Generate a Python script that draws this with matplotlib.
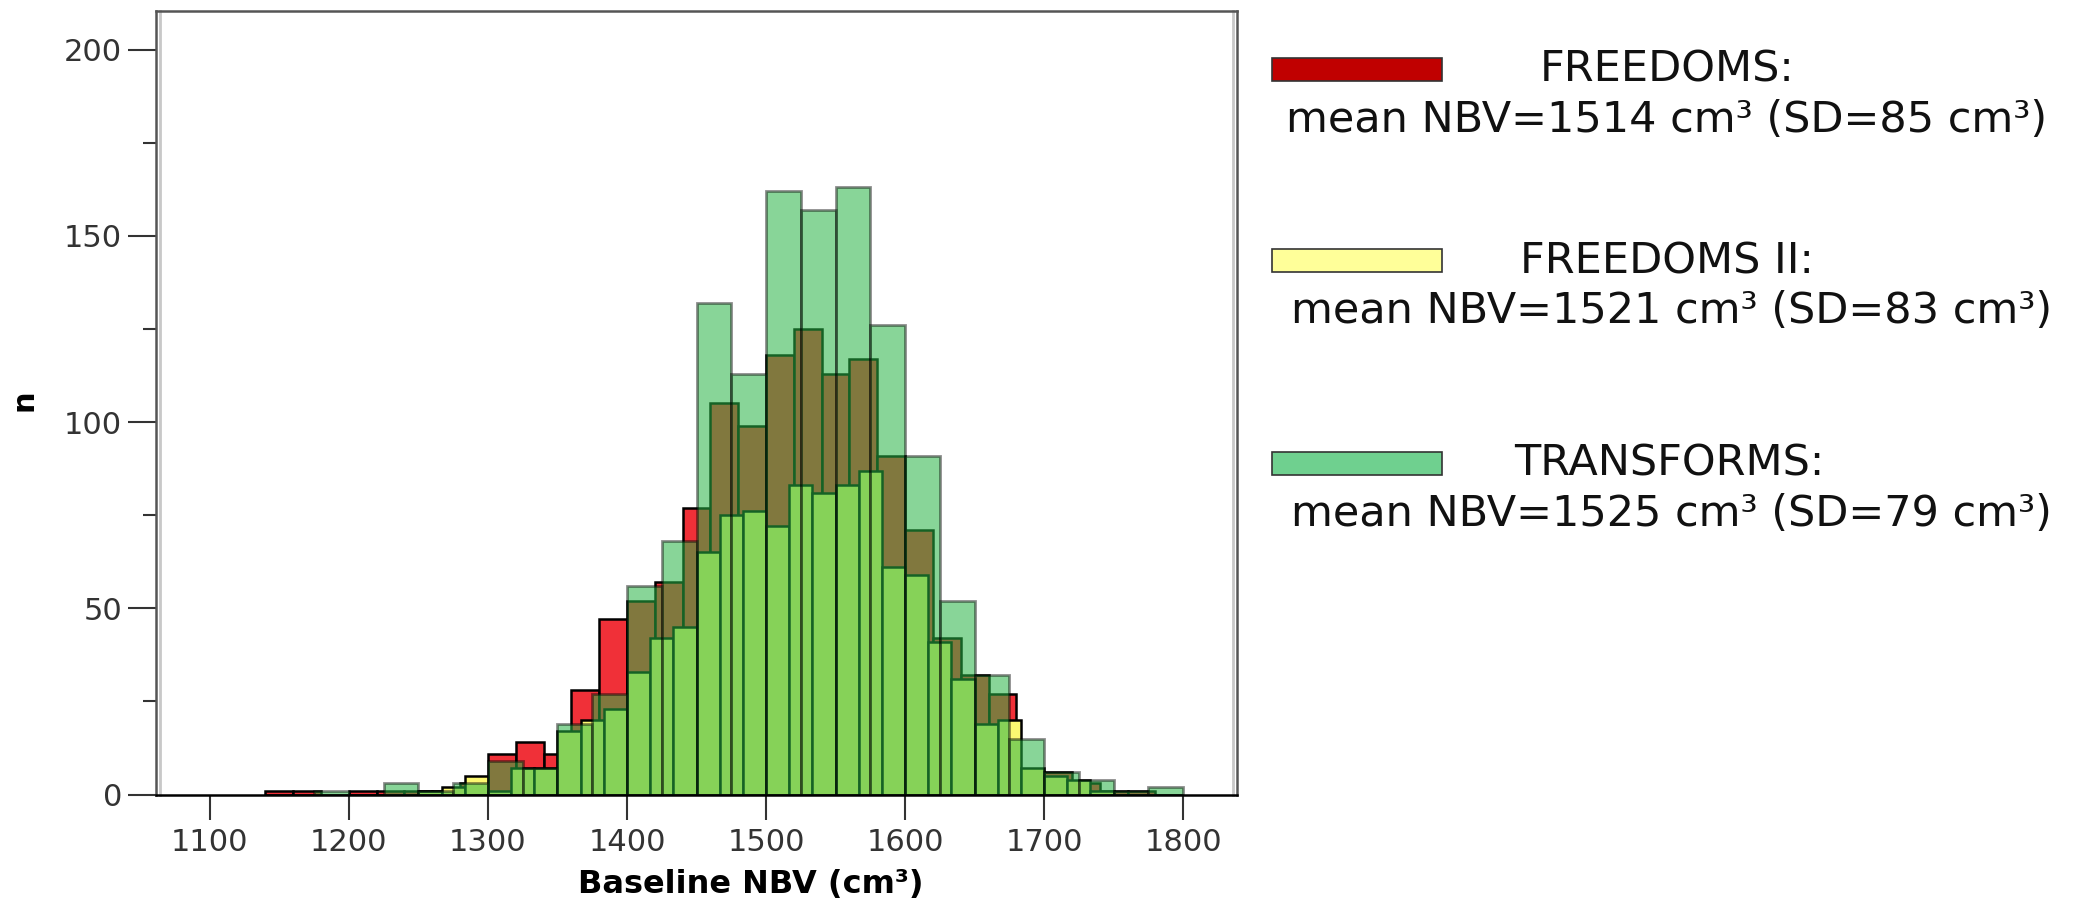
import numpy as np
import matplotlib.pyplot as plt
from matplotlib.patches import Rectangle

# FREEDOMS: bins of 20 cm3 starting at 1140
red_start, red_width = 1140, 20
red_counts = [1, 1, 0, 1, 1, 1, 1, 3, 11, 14, 11, 28, 47, 52, 57, 77, 105,
              99, 118, 125, 113, 117, 91, 71, 42, 32, 27, 6, 6, 3, 1, 1, 0]

# FREEDOMS II: bins of 100/6 cm3 starting at 1250
yel_start, yel_width = 1250, 100 / 6
yel_counts = [1, 2, 5, 1, 7, 7, 17, 20, 23, 33, 42, 45, 65, 75, 76, 72, 83,
              81, 83, 87, 61, 59, 41, 31, 19, 20, 7, 5, 4, 1]

# TRANSFORMS: bins of 25 cm3 starting at 1175
grn_start, grn_width = 1175, 25
grn_counts = [1, 0, 3, 1, 3, 9, 7, 19, 27, 56, 68, 132, 113, 162, 157, 163,
              126, 91, 52, 32, 15, 6, 4, 1, 2]

studies = ['FREEDOMS', 'FREEDOMS II', 'TRANSFORMS']
means = [1514, 1521, 1525]
sds = [85, 83, 79]

x_ticks = [1100, 1200, 1300, 1400, 1500, 1600, 1700, 1800]
y_ticks = [0, 50, 100, 150, 200]

red = '#f03038'
yellow = '#fbf871'
green = (39 / 255, 180 / 255, 68 / 255, 0.55)

W, H = 2073, 902
fig = plt.figure(figsize=(W / 100, H / 100), dpi=100)
ax = fig.add_axes([155.6 / W, 1 - 794.5 / H, (1237.4 - 155.6) / W, (794.5 - 10.6) / H])


def lefts(start, width, counts):
    return start + width * np.arange(len(counts))


ax.bar(lefts(red_start, red_width, red_counts), red_counts, width=red_width,
       align='edge', color=red, edgecolor='black', linewidth=1.8, zorder=2)
ax.bar(lefts(yel_start, yel_width, yel_counts), yel_counts, width=yel_width,
       align='edge', color=yellow, edgecolor='black', linewidth=1.8, zorder=3)
ax.bar(lefts(grn_start, grn_width, grn_counts), grn_counts, width=grn_width,
       align='edge', facecolor=green, edgecolor=(0, 0, 0, 0.45), linewidth=2,
       zorder=4)

ax.set_xlim(1061, 1839)
ax.set_ylim(0, 210.5)
ax.set_xticks(x_ticks)
ax.set_yticks(y_ticks)
ax.set_yticks([25, 75, 125, 175], minor=True)

ax.tick_params(axis='both', which='major', labelsize=22, labelcolor='#333333',
               color='#333333', width=1.5)
ax.tick_params(axis='x', which='major', length=18, pad=6)
ax.tick_params(axis='y', which='major', length=20, pad=4)
ax.tick_params(axis='y', which='minor', length=9.5, width=1.5, color='#333333')

for side in ['left', 'right', 'top']:
    ax.spines[side].set_color('#555555')
    ax.spines[side].set_linewidth(1.8)
ax.spines['bottom'].set_color('black')
ax.spines['bottom'].set_linewidth(1.8)
ax.spines['bottom'].set_zorder(6)

# light inner frame lines (SPSS style)
for xf in [0.0045, 0.9955]:
    ax.plot([xf, xf], [0, 1], transform=ax.transAxes, color='#c8c8c8',
            lw=2, clip_on=False, zorder=1)

fig.text(751 / W, 1 - 884 / H, 'Baseline NBV (cm³)', ha='center', va='center',
         fontsize=23, fontweight='bold')
fig.text(24 / W, 1 - 400 / H, 'n', ha='center', va='center', rotation=90,
         fontsize=22, fontweight='bold')

# legend on the right
patch_colors = ['#c00000', '#ffff99', '#6fd08f']
patch_y = [58, 249, 452]
title_x = [1540, 1520, 1514]
line_x = [1286, 1291, 1291]
for i, name in enumerate(studies):
    y0 = patch_y[i]
    fig.patches.append(Rectangle((1272 / W, 1 - (y0 + 23) / H), 170 / W, 23 / H,
                                 transform=fig.transFigure, facecolor=patch_colors[i],
                                 edgecolor='#333333', linewidth=1.2))
    fig.text(title_x[i] / W, 1 - (y0 + 12) / H, f'{name}:', ha='left',
             va='center', fontsize=31, color='#111111')
    fig.text(line_x[i] / W, 1 - (y0 + 62) / H,
             f'mean NBV={means[i]} cm³ (SD={sds[i]} cm³)', ha='left',
             va='center', fontsize=31, color='#111111')

fig.savefig('out.png', dpi=100)
